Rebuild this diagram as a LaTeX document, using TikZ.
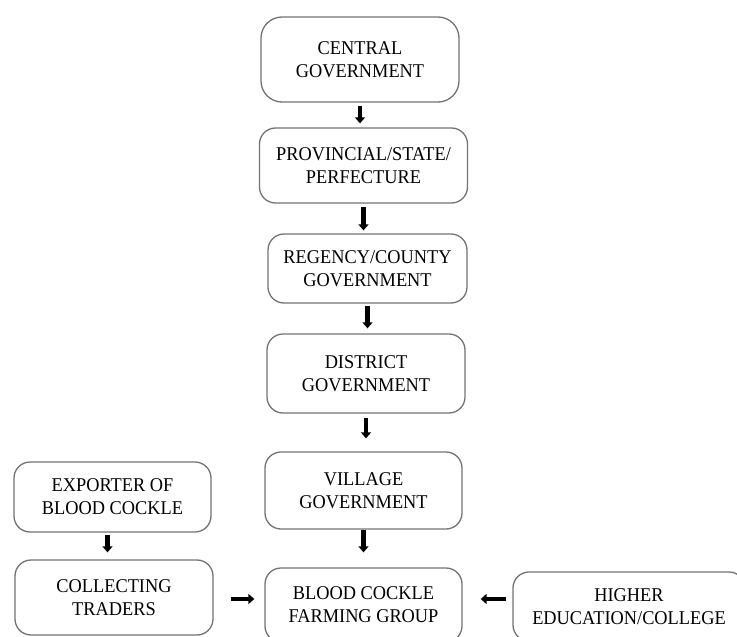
\documentclass[tikz,border=0pt]{standalone}
\usepackage{fontspec}
\setmainfont{Liberation Serif}[FakeStretch=0.94]
\usetikzlibrary{arrows.meta}

\begin{document}
\begin{tikzpicture}[
		box/.style={draw=black!55, line width=1.3pt, rounded corners=16pt, align=center, inner sep=0pt, font=\fontsize{19.5}{23}\selectfont},
		arr/.style={->, line width=4.3pt},
		>={Triangle[width=10pt,length=6pt]},
		x=1pt, y=-1pt]
	\useasboundingbox (0,0) rectangle (737,637);
	%% define boxes
	\node (central) at (360,59.5) [box, rounded corners=21pt, minimum width=198pt, minimum height=85pt] {CENTRAL\\GOVERNMENT};
	\node (prov) at (363.5,165.5) [box, minimum width=208pt, minimum height=75pt] {PROVINCIAL/STATE/\\PERFECTURE};
	\node (regency) at (367.5,268.5) [box, minimum width=199pt, minimum height=69pt] {REGENCY/COUNTY\\GOVERNMENT};
	\node (district) at (366,373.5) [box, minimum width=198pt, minimum height=79pt] {DISTRICT\\GOVERNMENT};
	\node (village) at (363.5,490.5) [box, minimum width=197pt, minimum height=77pt] {VILLAGE\\GOVERNMENT};
	\node (exporter) at (112.5,497) [box, minimum width=197pt, minimum height=70pt] {EXPORTER OF\\BLOOD COCKLE};
	\node (collect) at (114,597.5) [box, minimum width=198pt, minimum height=75pt] {COLLECTING\\TRADERS};
	\node (blood) at (363.5,605) [box, minimum width=197pt, minimum height=74pt] {BLOOD COCKLE\\FARMING GROUP};
	\node (higher) at (629,606.5) [box, minimum width=232pt, minimum height=69pt] {HIGHER\\EDUCATION/COLLEGE};
	%% define arrows
	\draw[arr, shorten <=3pt, shorten >=4pt] (central.south) -- (central.south |- prov.north);
	\draw[arr, shorten <=3pt, shorten >=3pt] (prov.south) -- (prov.south |- regency.north);
	\draw[arr, shorten <=2pt, shorten >=5pt] (regency.south) -- (regency.south |- district.north);
	\draw[arr, shorten <=4pt, shorten >=13pt] (district.south) -- (district.south |- village.north);
	\draw[arr, shorten <=0pt, shorten >=15pt] (village.south) -- (village.south |- blood.north);
	\draw[arr, shorten <=2pt, shorten >=7pt] ([xshift=-5pt]exporter.south) -- ([xshift=-5pt]exporter.south |- collect.north);
	\draw[arr, shorten <=17pt, shorten >=10pt] ([yshift=-1.5pt]collect.east) -- ([yshift=-1.5pt]collect.east -| blood.west);
	\draw[arr, shorten <=6pt, shorten >=18pt] ([yshift=-1.5pt]higher.west |- collect.east) -- ([yshift=-1.5pt]blood.east |- collect.east);
\end{tikzpicture}
\end{document}
